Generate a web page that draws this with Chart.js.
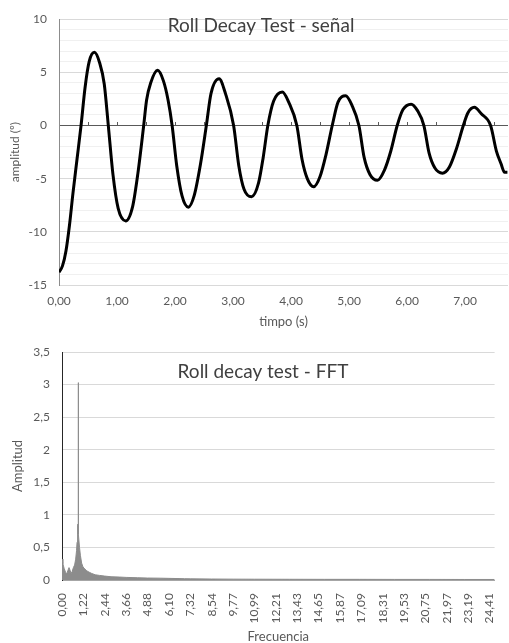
<!DOCTYPE html>
<html lang="es">
<head>
    <meta charset="UTF-8">
    <title>Roll Decay Test</title>
    <script src="https://cdn.jsdelivr.net/npm/chart.js"></script>
    <style>
        body { margin: 0; background: #fff; }
        .box { position: absolute; left: 0; width: 509px; }
        #topBox { top: 0; height: 330px; }
        #fftBox { top: 330px; height: 313px; }
    </style>
</head>
<body>
    <div class="box" id="topBox"><canvas id="signalChart"></canvas></div>
    <div class="box" id="fftBox"><canvas id="fftChart"></canvas></div>

    <script>
        // Roll decay signal (time in s, amplitude in degrees)
        const rollTime = [0.00, 0.06, 0.12, 0.18, 0.24, 0.31, 0.38, 0.45, 0.52, 0.61, 0.70, 0.78, 0.85, 0.93, 1.02, 1.15,
            1.27, 1.36, 1.46, 1.51, 1.58, 1.70, 1.80, 1.88, 1.95, 2.03, 2.12, 2.23, 2.33, 2.44, 2.54, 2.62, 2.76, 2.87,
            3.01, 3.10, 3.19, 3.32, 3.44, 3.52, 3.60, 3.70, 3.85, 3.96, 4.10, 4.19, 4.28, 4.39, 4.50, 4.60, 4.71, 4.81,
            4.94, 5.05, 5.17, 5.26, 5.36, 5.49, 5.61, 5.72, 5.83, 5.93, 6.07, 6.18, 6.29, 6.38, 6.48, 6.61, 6.73, 6.85,
            6.97, 7.05, 7.16, 7.28, 7.44, 7.54, 7.62, 7.68, 7.73];
        const rollAmp = [-13.8, -13.2, -11.8, -9.4, -6.4, -3.2, 0, 3.6, 6.0, 6.88, 5.9, 3.9, 0, -4.6, -7.8, -8.97,
            -7.6, -4.5, 0, 2.4, 4.0, 5.19, 4.2, 2.4, 0, -3.8, -6.6, -7.68, -6.6, -3.6, 0, 3.0, 4.39, 3.0,
            0, -3.8, -6.0, -6.7, -5.4, -3.0, 0, 2.3, 3.16, 2.2, 0, -3.2, -5.0, -5.77, -4.8, -2.8, 0, 2.2,
            2.79, 1.9, 0, -3.0, -4.6, -5.15, -4.2, -2.4, 0, 1.5, 2.01, 1.4, 0, -2.6, -4.0, -4.48, -3.9, -2.2,
            0, 1.2, 1.71, 1.1, 0, -2.4, -3.6, -4.4, -4.4];

        // FFT spectrum (frequency in Hz, amplitude)
        const fftFreq = [0.00, 0.05, 0.12, 0.20, 0.26, 0.33, 0.40, 0.46, 0.52, 0.58, 0.65, 0.72, 0.78, 0.83, 0.86,
            0.89, 0.915, 0.92, 0.925, 0.96, 1.00, 1.05, 1.12, 1.20, 1.30, 1.42, 1.55, 1.70, 1.90, 2.15, 2.44, 2.80,
            3.30, 3.66, 4.30, 4.88, 5.60, 6.10, 7.00, 7.32, 8.54, 9.77, 11.0, 13.0, 15.0, 17.0, 19.0, 21.0, 23.0, 24.7];
        const fftAmp = [0.32, 0.25, 0.18, 0.12, 0.09, 0.14, 0.19, 0.15, 0.10, 0.13, 0.19, 0.23, 0.32, 0.45, 0.58,
            0.84, 0.86, 3.03, 0.84, 0.70, 0.50, 0.38, 0.26, 0.20, 0.17, 0.14, 0.12, 0.10, 0.08, 0.07, 0.06, 0.05,
            0.045, 0.04, 0.035, 0.03, 0.028, 0.025, 0.02, 0.018, 0.015, 0.013, 0.012, 0.011, 0.01, 0.01, 0.009, 0.009, 0.008, 0.008];

        const fftStep = 1.220703;   // spacing of the frequency labels
        const comma = v => v.toString().replace('.', ',');

        Chart.defaults.font.family = 'Lato, "Liberation Sans", sans-serif';
        Chart.defaults.color = '#595959';

        // title drawn inside the plot area, like the spreadsheet one
        const overlayTitle = {
            id: 'overlayTitle',
            afterDraw(chart, args, opts) {
                const ctx = chart.ctx;
                ctx.save();
                ctx.font = opts.size + 'px Lato, "Liberation Sans", sans-serif';
                ctx.fillStyle = '#404040';
                ctx.textAlign = 'center';
                ctx.textBaseline = 'middle';
                ctx.fillText(opts.text, opts.x, opts.y);
                ctx.restore();
            }
        };

        new Chart(document.getElementById('signalChart'), {
            type: 'line',
            data: {
                datasets: [{
                    data: rollTime.map((t, i) => ({ x: t, y: rollAmp[i] })),
                    borderColor: '#000',
                    borderWidth: 3,
                    pointRadius: 0,
                    cubicInterpolationMode: 'monotone',
                    fill: false
                }]
            },
            options: {
                responsive: true,
                maintainAspectRatio: false,
                animation: false,
                layout: { padding: { top: 15, right: 1, left: 0, bottom: 0 } },
                plugins: {
                    legend: { display: false },
                    tooltip: { enabled: false },
                    overlayTitle: { text: 'Roll Decay Test - señal', x: 261, y: 26, size: 19 }
                },
                scales: {
                    x: {
                        type: 'linear',
                        min: 0,
                        max: 7.74,
                        afterFit: s => { s.height = 45; },
                        grid: { display: false },
                        border: { display: false },
                        ticks: {
                            stepSize: 1,
                            includeBounds: false,
                            padding: 1,
                            font: { size: 12 },
                            maxRotation: 0,
                            callback: v => v.toFixed(2).replace('.', ',')
                        },
                        title: { display: true, text: 'timpo (s)', font: { size: 13 }, padding: 0 }
                    },
                    x2: {
                        type: 'linear',
                        min: 0,
                        max: 7.74,
                        position: { y: 0 },
                        ticks: { display: false, stepSize: 0.5, includeBounds: false },
                        grid: { drawOnChartArea: false, drawTicks: true, tickLength: -4, color: '#595959' },
                        border: { display: false }
                    },
                    y: {
                        min: -15,
                        max: 10,
                        afterFit: s => { s.width = 59; },
                        border: { color: '#8c8c8c' },
                        grid: {
                            drawTicks: false,
                            color: c => c.tick.value === 0 ? '#595959' : (c.tick.value % 5 === 0 ? '#d9d9d9' : '#f0f0f0')
                        },
                        ticks: {
                            stepSize: 1,
                            autoSkip: false,
                            padding: 12,
                            font: { size: 12 },
                            callback: v => v % 5 === 0 ? String(v) : ''
                        },
                        title: { display: true, text: 'amplitud (º)', font: { size: 12 }, padding: { top: 8, bottom: 0 } }
                    }
                }
            },
            plugins: [overlayTitle]
        });

        new Chart(document.getElementById('fftChart'), {
            type: 'line',
            data: {
                datasets: [{
                    data: fftFreq.map((f, i) => ({ x: f, y: fftAmp[i] })),
                    borderColor: '#8c8c8c',
                    backgroundColor: '#8c8c8c',
                    borderWidth: 1,
                    pointRadius: 0,
                    tension: 0,
                    fill: 'origin'
                }]
            },
            options: {
                responsive: true,
                maintainAspectRatio: false,
                animation: false,
                layout: { padding: { top: 22, right: 1, left: 0, bottom: 0 } },
                plugins: {
                    legend: { display: false },
                    tooltip: { enabled: false },
                    overlayTitle: { text: 'Roll decay test - FFT', x: 263, y: 42, size: 19 }
                },
                scales: {
                    x: {
                        type: 'linear',
                        min: 0,
                        max: 24.7,
                        afterFit: s => { s.height = 63; },
                        grid: { display: false },
                        border: { color: '#a6a6a6' },
                        ticks: {
                            stepSize: fftStep,
                            includeBounds: false,
                            autoSkip: false,
                            minRotation: 90,
                            maxRotation: 90,
                            padding: 5,
                            font: { size: 12 },
                            callback: v => v.toFixed(2).replace('.', ',')
                        },
                        title: { display: true, text: 'Frecuencia', font: { size: 13, lineHeight: 1 }, padding: 0 }
                    },
                    y: {
                        min: 0,
                        max: 3.5,
                        afterFit: s => { s.width = 62; },
                        border: { color: '#262626' },
                        grid: { drawTicks: false, color: '#d9d9d9' },
                        ticks: {
                            stepSize: 0.5,
                            padding: 12,
                            font: { size: 12 },
                            callback: v => comma(v)
                        },
                        title: { display: true, text: 'Amplitud', font: { size: 13 }, padding: { top: 10, bottom: 0 } }
                    }
                }
            },
            plugins: [overlayTitle]
        });
    </script>
</body>
</html>
